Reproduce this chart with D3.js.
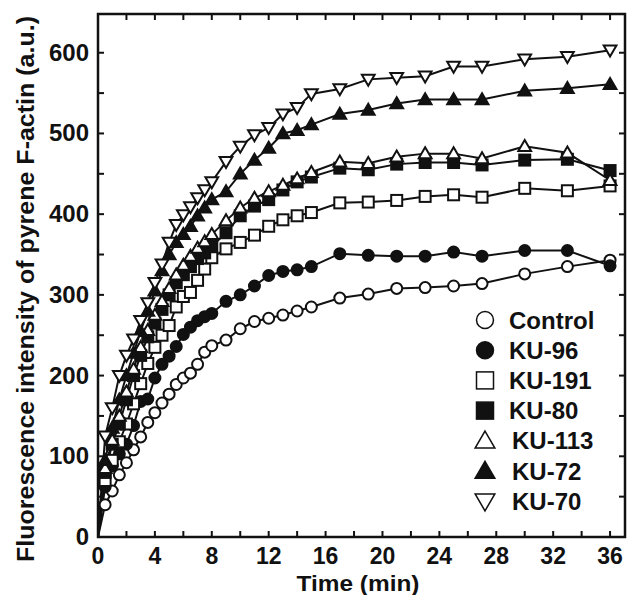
<!DOCTYPE html>
<html>
<head>
<meta charset="utf-8">
<script src="https://cdn.jsdelivr.net/npm/d3@7"></script>
<style>
html,body{margin:0;padding:0;background:#fff;}
svg{display:block;}
text{font-family:"Liberation Sans",Arial,sans-serif;font-weight:bold;fill:#111;}
</style>
</head>
<body>
<svg id="chart" width="628" height="595"></svg>
<script>
// Time points (min)
const times = [0,0.5,1,1.5,2,2.5,3,3.5,4,4.5,5,5.5,6,6.5,7,7.5,8,9,10,11,12,13,14,15,17,19,21,23,25,27,30,33,36];

const control = [0,40,57,77,92,108,124,142,154,166,177,189,197,203,214,229,237,244,258,267,271,275,280,285,296,301,308,309,311,314,326,335,343];
const ku96    = [0,62,88,103,115,138,168,171,197,214,224,236,251,260,268,273,277,292,300,311,324,329,331,335,351,349,348,348,353,348,355,355,336];
const ku191   = [0,70,95,118,140,165,190,215,235,250,262,285,298,303,318,332,346,357,365,374,385,393,398,402,414,415,417,422,424,421,432,429,435];
const ku80    = [0,80,115,140,170,200,225,248,265,282,300,315,325,335,345,352,360,377,398,410,418,430,440,446,457,455,462,464,464,461,467,468,454];
const ku113   = [0,85,120,150,180,208,235,256,275,292,308,325,337,348,358,366,375,392,408,420,428,436,444,452,465,463,471,475,475,469,484,476,442];
const ku72    = [0,95,135,170,200,228,255,280,305,330,350,365,375,385,398,408,418,428,450,467,482,500,504,511,524,529,537,542,542,542,553,556,561];
const ku70    = [0,125,160,200,225,245,268,290,315,338,365,387,399,409,420,430,440,465,484,498,507,524,532,549,555,567,569,571,583,583,592,595,603];

const seriesNames = ["Control","KU-96","KU-191","KU-80","KU-113","KU-72","KU-70"];
const seriesShapes = ["circle","circle","square","square","triUp","triUp","triDown"];
const seriesFilled = [false,true,false,true,false,true,false];
const seriesValues = [control,ku96,ku191,ku80,ku113,ku72,ku70];

const xTicks = [0,4,8,12,16,20,24,28,32,36];
const yTicks = [0,100,200,300,400,500,600];

const svg = d3.select("#chart");
const L = 98, R = 625, T = 14, B = 537;
const x = d3.scaleLinear().domain([0, 37.05]).range([L, R]);
const y = d3.scaleLinear().domain([0, 648]).range([B, T]);

// frame
svg.append("rect").attr("x", L).attr("y", T).attr("width", R - L).attr("height", B - T)
  .attr("fill", "none").attr("stroke", "#111").attr("stroke-width", 2.5);

// ticks
const xMinor = d3.range(0, 37, 2);
const yMinor = d3.range(0, 650, 50);
const tl = 6;
const tg = svg.append("g").attr("stroke", "#111").attr("stroke-width", 2);
xMinor.forEach(t => {
  tg.append("line").attr("x1", x(t)).attr("x2", x(t)).attr("y1", B).attr("y2", B - tl);
  tg.append("line").attr("x1", x(t)).attr("x2", x(t)).attr("y1", T).attr("y2", T + tl);
});
yMinor.forEach(v => {
  tg.append("line").attr("x1", L).attr("x2", L + tl).attr("y1", y(v)).attr("y2", y(v));
  tg.append("line").attr("x1", R).attr("x2", R - tl).attr("y1", y(v)).attr("y2", y(v));
});

// tick labels
svg.append("g").selectAll("text").data(xTicks).join("text")
  .attr("x", d => x(d)).attr("y", 564).attr("text-anchor", "middle")
  .attr("font-size", 23).text(d => d);
svg.append("g").selectAll("text").data(yTicks).join("text")
  .attr("x", 89).attr("y", d => y(d) + 8).attr("text-anchor", "end")
  .attr("font-size", 24).text(d => d);

// axis titles
svg.append("text").attr("x", 358).attr("y", 591).attr("text-anchor", "middle")
  .attr("font-size", 22).attr("textLength", 123).attr("lengthAdjust", "spacingAndGlyphs")
  .text("Time (min)");
svg.append("text").attr("transform", "translate(34,289) rotate(-90)").attr("text-anchor", "middle")
  .attr("font-size", 23).attr("textLength", 546).attr("lengthAdjust", "spacingAndGlyphs")
  .text("Fluorescence intensity of pyrene F-actin (a.u.)");

// marker drawing
function marker(g, shape, filled, cx, cy, s, sw) {
  const fill = filled ? "#111" : "#fff";
  let el;
  if (shape === "circle") {
    el = g.append("circle").attr("cx", cx).attr("cy", cy).attr("r", s / 2);
  } else if (shape === "square") {
    el = g.append("rect").attr("x", cx - s / 2).attr("y", cy - s / 2).attr("width", s).attr("height", s);
  } else if (shape === "triUp") {
    const h = s * 0.95;
    el = g.append("path").attr("d", `M${cx},${cy - h * 0.6}L${cx + s * 0.58},${cy + h * 0.45}L${cx - s * 0.58},${cy + h * 0.45}Z`);
  } else {
    const h = s * 0.95;
    el = g.append("path").attr("d", `M${cx},${cy + h * 0.6}L${cx + s * 0.58},${cy - h * 0.45}L${cx - s * 0.58},${cy - h * 0.45}Z`);
  }
  el.attr("fill", fill).attr("stroke", "#111").attr("stroke-width", sw);
}

const line = d3.line().x(d => x(d[0])).y(d => y(d[1]));
const plot = svg.append("g");
seriesValues.forEach((vals, i) => {
  const pts = times.map((t, j) => [t, vals[j]]);
  plot.append("path").datum(pts).attr("d", line)
    .attr("fill", "none").attr("stroke", "#111").attr("stroke-width", 2);
});
seriesValues.forEach((vals, i) => {
  const g = plot.append("g");
  times.forEach((t, j) => {
    if (t === 0) return;
    marker(g, seriesShapes[i], seriesFilled[i], x(t), y(vals[j]), 11, 2);
  });
});

// legend
const lg = svg.append("g");
seriesNames.forEach((name, i) => {
  const cy = 320 + i * 30.2;
  marker(lg, seriesShapes[i], seriesFilled[i], 485, cy, 17, 1.5);
  lg.append("text").attr("x", i === 4 || i === 5 || i === 6 ? 512 : 509).attr("y", cy + 8.5)
    .attr("font-size", 24).text(name);
});
</script>
</body>
</html>
